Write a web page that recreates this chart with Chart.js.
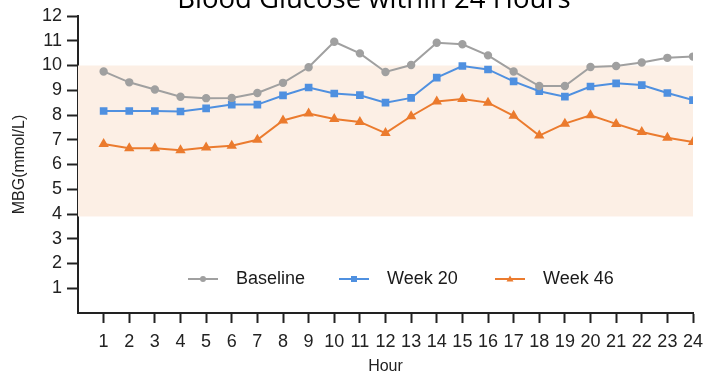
<!DOCTYPE html>
<html>

<head>
  <title>Blood Glucose within 24 Hours</title>
  <script src="https://cdn.jsdelivr.net/npm/chart.js@4.4.0/dist/chart.umd.min.js"></script>
  <style>
    body { margin: 0; background: #fff; }
    #wrap { position: relative; width: 703px; height: 376px; }
  </style>
</head>

<body>
  <div id="wrap"><canvas id="glucoseChart" width="703" height="376"></canvas></div>
  <script>
    const hours = [1, 2, 3, 4, 5, 6, 7, 8, 9, 10, 11, 12, 13, 14, 15, 16, 17, 18, 19, 20, 21, 22, 23, 24];
    const baseline = [9.76, 9.32, 9.03, 8.74, 8.68, 8.69, 8.89, 9.30, 9.93, 10.96, 10.49, 9.74,
      10.02, 10.92, 10.86, 10.41, 9.76, 9.17, 9.17, 9.94, 9.98, 10.12, 10.31, 10.36];
    const week20 = [8.16, 8.16, 8.16, 8.14, 8.27, 8.42, 8.42, 8.79, 9.11, 8.87, 8.80, 8.50,
      8.69, 9.51, 9.98, 9.84, 9.36, 8.96, 8.74, 9.15, 9.28, 9.21, 8.89, 8.60];
    const week46 = [6.83, 6.66, 6.66, 6.58, 6.69, 6.76, 7.00, 7.78, 8.06, 7.84, 7.72, 7.27,
      7.95, 8.55, 8.65, 8.50, 7.97, 7.17, 7.65, 7.99, 7.64, 7.31, 7.08, 6.91];
    const seriesNames = ['Baseline', 'Week 20', 'Week 46'];
    const targetRange = [3.9, 10];
    const chartTitle = 'Blood Glucose within 24 Hours';

    const toPoints = vals => vals.map((v, i) => ({ x: hours[i], y: v }));

    // shaded target band behind the lines
    const bandPlugin = {
      id: 'band',
      beforeDatasetsDraw(chart) {
        const { ctx, scales: { x, y } } = chart;
        const top = y.getPixelForValue(targetRange[1]);
        const bottom = y.getPixelForValue(targetRange[0]);
        ctx.save();
        ctx.fillStyle = '#fcefe5';
        ctx.fillRect(x.getPixelForValue(0), top, x.getPixelForValue(24) - x.getPixelForValue(0), bottom - top);
        ctx.restore();
      }
    };

    // title partly clipped at the top edge, legend inside the plot
    const textPlugin = {
      id: 'texts',
      afterDraw(chart) {
        const ctx = chart.ctx;
        ctx.save();
        ctx.fillStyle = '#000';
        ctx.font = '27.5px "Open Sans"';
        ctx.textAlign = 'center';
        ctx.textBaseline = 'alphabetic';
        ctx.fillText(chartTitle, 374, 8);

        const legendX = [188, 339, 495];
        const legendY = 279;
        chart.data.datasets.forEach((ds, i) => {
          const x0 = legendX[i];
          ctx.strokeStyle = ds.borderColor;
          ctx.lineWidth = 2;
          ctx.beginPath();
          ctx.moveTo(x0, legendY);
          ctx.lineTo(x0 + 30, legendY);
          ctx.stroke();
          ctx.fillStyle = ds.borderColor;
          const cx = x0 + 15;
          ctx.beginPath();
          if (ds.pointStyle === 'circle') {
            ctx.arc(cx, legendY, 3, 0, Math.PI * 2);
          } else if (ds.pointStyle === 'rect') {
            ctx.rect(cx - 3, legendY - 3, 6, 6);
          } else {
            ctx.moveTo(cx, legendY - 3.5);
            ctx.lineTo(cx + 3.5, legendY + 2.5);
            ctx.lineTo(cx - 3.5, legendY + 2.5);
            ctx.closePath();
          }
          ctx.fill();
          ctx.fillStyle = '#1a1a1a';
          ctx.font = '18px "Liberation Sans", Arial';
          ctx.textAlign = 'left';
          ctx.textBaseline = 'middle';
          ctx.fillText(ds.label, x0 + 48, legendY);
        });
        ctx.restore();
      }
    };

    const axisColor = '#222';

    new Chart(document.getElementById('glucoseChart').getContext('2d'), {
      type: 'line',
      data: {
        datasets: [{
          label: seriesNames[0],
          data: toPoints(baseline),
          borderColor: '#a0a0a0',
          backgroundColor: '#a0a0a0',
          borderWidth: 2,
          pointStyle: 'circle',
          pointRadius: 3.2,
          tension: 0
        }, {
          label: seriesNames[1],
          data: toPoints(week20),
          borderColor: '#4f90e0',
          backgroundColor: '#4f90e0',
          borderWidth: 2,
          pointStyle: 'rect',
          pointRadius: 4,
          tension: 0
        }, {
          label: seriesNames[2],
          data: toPoints(week46),
          borderColor: '#eb7b2e',
          backgroundColor: '#eb7b2e',
          borderWidth: 2,
          pointStyle: 'triangle',
          pointRadius: 4,
          tension: 0
        }]
      },
      options: {
        responsive: false,
        animation: false,
        layout: { padding: { top: 16, right: 10, left: 0, bottom: 0 } },
        plugins: {
          legend: { display: false },
          tooltip: { enabled: false }
        },
        scales: {
          x: {
            type: 'linear',
            min: 0,
            max: 24,
            afterBuildTicks: s => { s.ticks = s.ticks.filter(t => t.value > 0); },
            afterFit: s => { s.height = 63; s.paddingLeft = 0; s.paddingRight = 0; },
            ticks: { stepSize: 1, color: axisColor, padding: 8, maxRotation: 0, autoSkip: false, font: { family: '"Liberation Sans", Arial', size: 18 } },
            grid: { drawOnChartArea: false, drawTicks: true, tickLength: 10, tickWidth: 2, tickColor: axisColor },
            border: { display: true, width: 2, color: axisColor },
            title: { display: true, text: 'Hour', color: axisColor, padding: { top: 0, bottom: 0 }, font: { family: '"Liberation Sans", Arial', size: 16 } }
          },
          y: {
            min: 0,
            max: 12,
            afterBuildTicks: s => { s.ticks = s.ticks.filter(t => t.value > 0); },
            afterFit: s => { s.width = 78; s.paddingTop = 0; s.paddingBottom = 0; },
            ticks: { stepSize: 1, color: axisColor, padding: 5, font: { family: '"Liberation Sans", Arial', size: 18 } },
            grid: { drawOnChartArea: false, drawTicks: true, tickLength: 11, tickWidth: 2, tickColor: axisColor },
            border: { display: true, width: 2, color: axisColor },
            title: { display: true, text: 'MBG(mmol/L)', color: axisColor, padding: { top: 10, bottom: 0 }, font: { family: '"Liberation Sans", Arial', size: 16 } }
          }
        }
      },
      plugins: [bandPlugin, textPlugin]
    });
  </script>
</body>

</html>
